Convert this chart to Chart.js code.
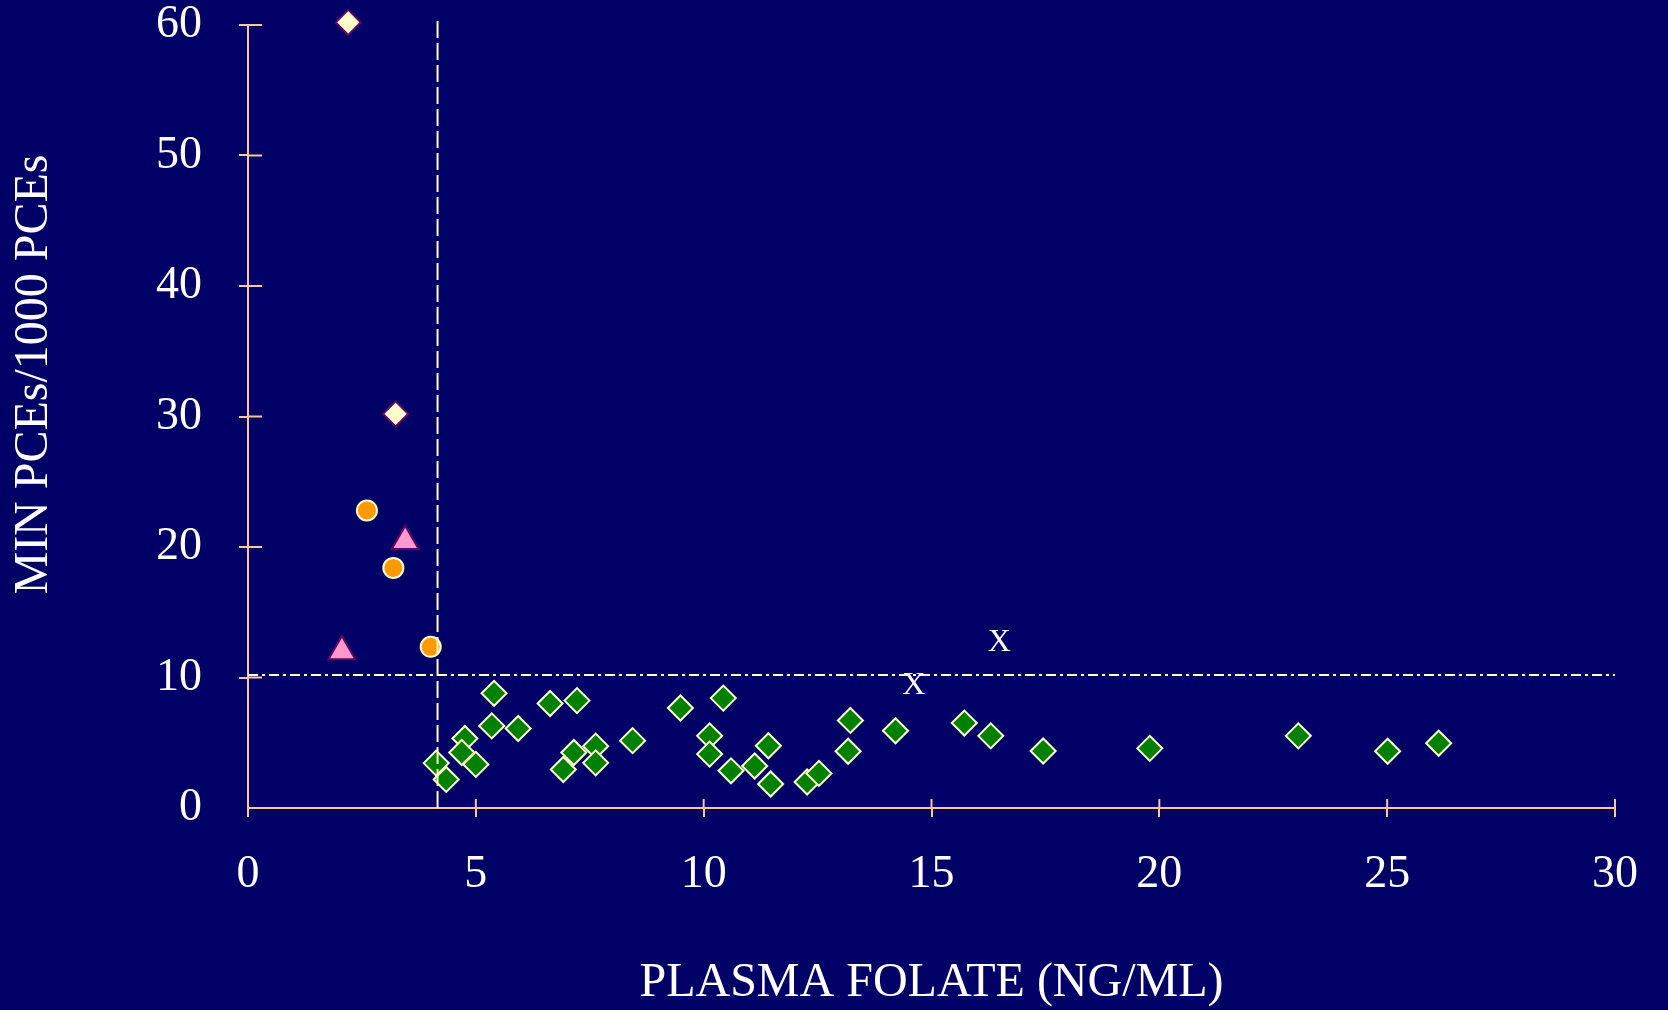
<!DOCTYPE html>
<html>
<head>
<meta charset="utf-8">
<title>Plasma folate vs MN PCEs</title>
<script src="https://cdn.jsdelivr.net/npm/chart.js@4.4.1/dist/chart.umd.min.js"></script>
<style>
  html, body { margin: 0; padding: 0; background: #000066; }
  canvas { display: block; }
</style>
</head>
<body>
<canvas id="folate-chart" width="1668" height="1010"></canvas>
<script>
// green diamonds - folate above cut-off
const normalX = [5.40, 5.35, 5.93, 4.76, 4.69, 5.00, 4.13, 4.35, 6.63, 7.22, 7.15, 7.63, 7.63, 6.92, 8.44,
                 9.49, 10.43, 10.13, 10.13, 10.60, 11.12, 11.42, 11.47, 12.27, 12.53, 13.22, 13.17, 14.21,
                 15.72, 16.30, 17.45, 19.79, 23.05, 25.01, 26.13];
const normalY = [8.79, 6.29, 6.09, 5.33, 4.25, 3.34, 3.44, 2.19, 8.01, 8.23, 4.25, 4.74, 3.46, 2.95, 5.16,
                 7.66, 8.42, 5.53, 4.13, 2.85, 3.22, 4.77, 1.84, 1.99, 2.65, 6.71, 4.35, 5.92,
                 6.51, 5.53, 4.37, 4.57, 5.53, 4.35, 4.96];
// cream diamonds
const highX = [2.20, 3.24];
const highY = [60.2, 30.2];
// orange circles
const circleX = [2.61, 3.19, 4.01];
const circleY = [22.8, 18.4, 12.35];
// pink triangles
const triX = [3.45, 2.06];
const triY = [20.44, 12.0];
// "X" marks
const markX = [16.49, 14.61];
const markY = [12.65, 9.36];
// cut-off lines
const folateCut = 4.16;
const mnCut = 10.2;

const xTicks = [0, 5, 10, 15, 20, 25, 30];
const yTicks = [0, 10, 20, 30, 40, 50, 60];

const axisColor = '#F8C898';
const lineColor = '#FFFFCC';
const serif = '"Liberation Serif", "Times New Roman", serif';

function toPoints(xs, ys) {
  const pts = [];
  for (let i = 0; i < xs.length; i++) {
    pts.push({ x: xs[i], y: ys[i] });
  }
  return pts;
}

// tick marks also cross into the plot area
const innerTicks = {
  id: 'innerTicks',
  beforeDatasetsDraw(chart) {
    const ctx = chart.ctx;
    const xs = chart.scales.x;
    const ys = chart.scales.y;
    ctx.save();
    ctx.strokeStyle = axisColor;
    ctx.lineWidth = 2;
    ctx.beginPath();
    xs.ticks.forEach(t => {
      if (t.value === 0) return;
      const px = xs.getPixelForValue(t.value);
      ctx.moveTo(px, ys.bottom);
      ctx.lineTo(px, ys.bottom - 9);
    });
    ys.ticks.forEach(t => {
      if (t.value === 0) return;
      const py = ys.getPixelForValue(t.value);
      ctx.moveTo(xs.left, py);
      ctx.lineTo(xs.left + 14, py);
    });
    ctx.stroke();
    ctx.restore();
  }
};

// the two points drawn as a letter X
const letterMarks = {
  id: 'letterMarks',
  afterDatasetsDraw(chart) {
    const ctx = chart.ctx;
    chart.data.datasets.forEach((ds, i) => {
      if (!ds.letter) return;
      const meta = chart.getDatasetMeta(i);
      ctx.save();
      ctx.fillStyle = '#FFFFFF';
      ctx.font = '32px ' + serif;
      ctx.textAlign = 'center';
      ctx.textBaseline = 'middle';
      meta.data.forEach(el => ctx.fillText(ds.letter, el.x, el.y));
      ctx.restore();
    });
  }
};

new Chart(document.getElementById('folate-chart'), {
  type: 'scatter',
  data: {
    datasets: [
      {
        label: 'Folate cut-off',
        data: [{ x: folateCut, y: 60.3 }, { x: folateCut, y: 0 }],
        showLine: true,
        borderColor: lineColor,
        borderWidth: 2,
        borderDash: [17, 5],
        pointRadius: 0,
        clip: false
      },
      {
        label: 'MN cut-off',
        data: [{ x: 0, y: mnCut }, { x: 30, y: mnCut }],
        showLine: true,
        borderColor: lineColor,
        borderWidth: 2,
        borderDash: [10, 4, 3, 4],
        pointRadius: 0,
        clip: false
      },
      {
        label: 'X',
        letter: 'X',
        data: toPoints(markX, markY),
        pointRadius: 0
      },
      {
        label: 'High',
        data: toPoints(highX, highY),
        pointStyle: 'rectRot',
        pointRadius: 12.5,
        backgroundColor: '#FFFFCC',
        borderColor: '#660066',
        borderWidth: 2,
        clip: false
      },
      {
        label: 'Circles',
        data: toPoints(circleX, circleY),
        pointStyle: 'circle',
        pointRadius: 10,
        backgroundColor: '#FF9900',
        borderColor: '#FFFFCC',
        borderWidth: 2
      },
      {
        label: 'Triangles',
        data: toPoints(triX, triY),
        pointStyle: 'triangle',
        pointRadius: 15.5,
        backgroundColor: '#FF99CC',
        borderColor: '#660066',
        borderWidth: 2
      },
      {
        label: 'Normal',
        data: toPoints(normalX, normalY),
        pointStyle: 'rectRot',
        pointRadius: 12.5,
        backgroundColor: '#008000',
        borderColor: '#FFFFCC',
        borderWidth: 2
      }
    ]
  },
  options: {
    responsive: false,
    animation: false,
    devicePixelRatio: 1,
    layout: { padding: { top: 25, right: 53, bottom: 0, left: 0 } },
    plugins: {
      legend: { display: false },
      tooltip: { enabled: false }
    },
    scales: {
      x: {
        type: 'linear',
        min: 0,
        max: 30,
        afterBuildTicks: scale => { scale.ticks = xTicks.map(v => ({ value: v })); },
        afterFit: scale => {
          scale.height = 202;
          scale.paddingLeft = 0;
          scale.paddingRight = 0;
        },
        grid: { drawOnChartArea: false, color: axisColor, lineWidth: 2, tickLength: 9 },
        border: { color: axisColor, width: 2 },
        ticks: {
          color: '#FFFFFF',
          padding: 35,
          font: { family: serif, size: 46, lineHeight: 1.0 }
        },
        title: {
          display: true,
          text: 'PLASMA FOLATE (NG/ML)',
          color: '#FFFFFF',
          padding: { top: 0, bottom: 0 },
          font: { family: serif, size: 48, lineHeight: 1.1 }
        }
      },
      y: {
        type: 'linear',
        min: 0,
        max: 60,
        afterBuildTicks: scale => { scale.ticks = yTicks.map(v => ({ value: v })); },
        afterFit: scale => {
          scale.width = 248;
          scale.paddingTop = 0;
          scale.paddingBottom = 0;
        },
        grid: {
          drawOnChartArea: false,
          color: ctx => (ctx.tick && ctx.tick.value === 0 ? 'rgba(0,0,0,0)' : axisColor),
          lineWidth: 2,
          tickLength: 9
        },
        border: { color: axisColor, width: 2 },
        ticks: {
          color: '#FFFFFF',
          padding: 37,
          font: { family: serif, size: 46, lineHeight: 1.0 }
        },
        title: {
          display: true,
          text: '       MIN PCEs/1000 PCEs',
          color: '#FFFFFF',
          padding: { top: 6, bottom: 0 },
          font: { family: serif, size: 48 }
        }
      }
    }
  },
  plugins: [innerTicks, letterMarks]
});
</script>
</body>
</html>
